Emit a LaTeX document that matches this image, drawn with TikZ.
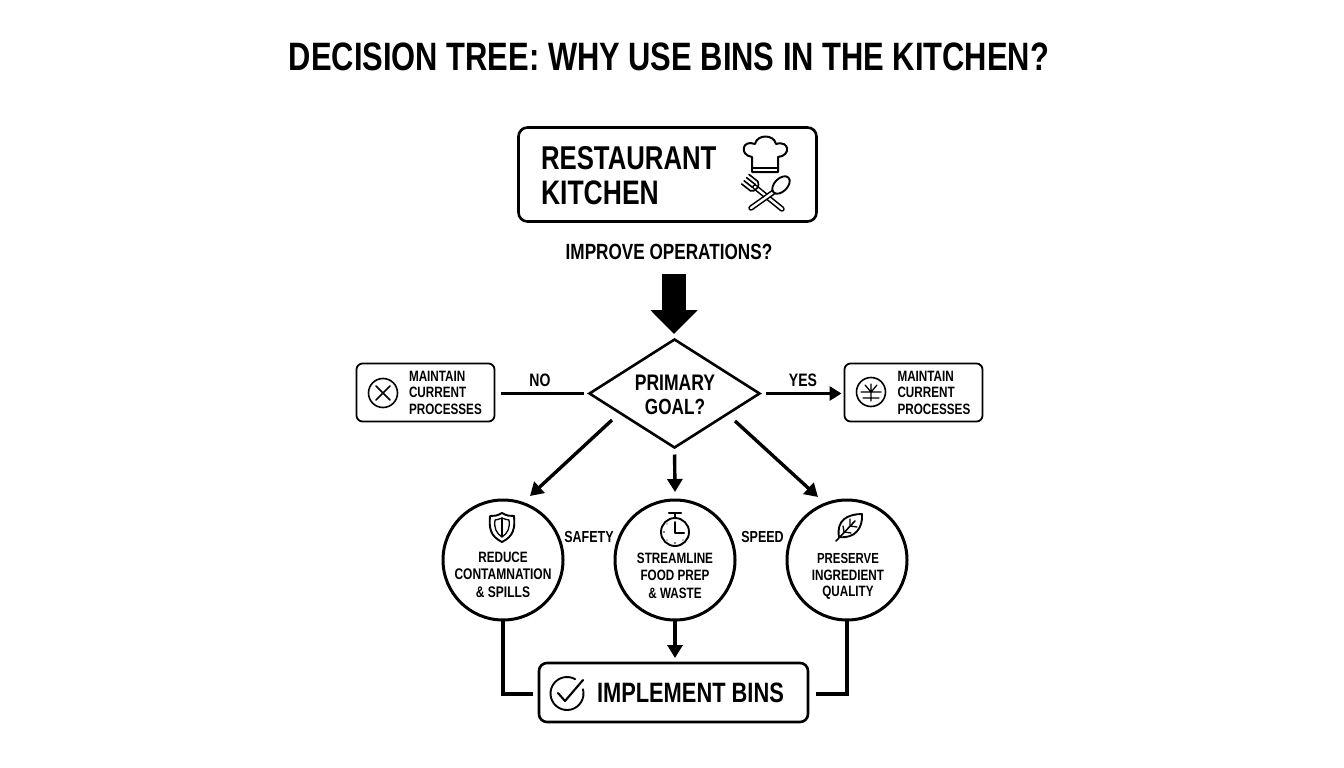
\documentclass[tikz,border=0pt]{standalone}
\usepackage{fontspec}
\usetikzlibrary{arrows.meta,shapes.geometric}
\newfontfamily\lab[FakeStretch=0.78]{Liberation Sans Bold}
\newcommand{\fs}[1]{\fontsize{#1}{#1}\selectfont\lab}
\tikzset{
  x=1pt,y=-1pt,
  bigbox/.style={draw=black,line width=2.6pt,rounded corners=9pt,fill=white,inner sep=0pt,outer sep=0pt},
  smallbox/.style={draw=black,line width=1.8pt,rounded corners=6pt,fill=white,inner sep=0pt,outer sep=0pt,minimum width=138pt,minimum height=58pt},
  goalcircle/.style={circle,draw=black,line width=3pt,fill=white,inner sep=0pt,outer sep=0pt,minimum size=120pt},
  decision/.style={diamond,draw=black,line width=2.6pt,fill=white,inner sep=0pt,outer sep=0pt,minimum width=170pt,minimum height=108pt,aspect=1.57},
  txt/.style={inner sep=0pt,outer sep=0pt,align=center,text=black},
  txtl/.style={inner sep=0pt,outer sep=0pt,align=left,text=black,anchor=west},
  conn/.style={draw=black,line width=3.4pt},
  arr/.style={draw=black,line width=3.4pt,-{Triangle[width=15pt,length=13pt]}},
  elbow/.style={draw=black,line width=3.6pt,line join=miter},
  icon/.style={draw=black,line width=1.6pt,line cap=round,line join=round},
  iconthin/.style={draw=black,line width=1.3pt,line cap=round,line join=round},
}
\begin{document}
\begin{tikzpicture}
\useasboundingbox[fill=white] (0,0) rectangle (1344,768);
% title
\node[txt] (title) at (669,57) {\fs{39.6}DECISION TREE: WHY USE BINS IN THE KITCHEN?};
% top box
\node[bigbox,minimum width=298pt,minimum height=94pt] (kitchen) at (667.5,174.5) {};
\node[txtl] (kt1) at (541,158.5) {\fs{33}RESTAURANT};
\node[txtl] (kt2) at (541,193) {\fs{34}KITCHEN};
% chef hat
\draw[icon,line width=2pt] (752,157) .. controls (739,155) and (742,139) .. (755,144) .. controls (757,134) and (774,134) .. (776,144) .. controls (790,140) and (791,156) .. (778,157) -- (778,172) -- (752,172) -- cycle;
\draw[icon,line width=2pt] (752,168) -- (778,168);
% fork
\draw[line width=5.5pt,line cap=round,draw=black] (782,209) -- (755,187);
\draw[line width=2.4pt,line cap=round,draw=white] (782,209) -- (755,187);
\begin{scope}[shift={(754,186)},rotate=142]
  \draw[icon,line width=1.6pt] (0pt,-6pt) -- (11pt,-6pt) (0pt,-2pt) -- (11pt,-2pt) (0pt,2pt) -- (11pt,2pt) (0pt,6pt) -- (11pt,6pt);
  \draw[icon,line width=1.6pt] (0pt,-6pt) .. controls (-5pt,-5pt) and (-5pt,5pt) .. (0pt,6pt);
\end{scope}
% spoon
\draw[line width=5.5pt,line cap=round,draw=black] (751,208) -- (775,191);
\draw[line width=2.4pt,line cap=round,draw=white] (751,208) -- (775,191);
\draw[icon,line width=1.9pt,fill=white,shift={(781,185)},rotate=45] (0pt,0pt) ellipse [x radius=10.5pt,y radius=6.5pt];
% question
\node[txt] (q) at (669,252) {\fs{22}IMPROVE OPERATIONS?};
% big arrow
\coordinate (fatA) at (674,274);
\coordinate (fatB) at (674,334);
\draw[draw=black,line width=24pt,-{Triangle[width=46pt,length=24pt]}] (fatA) -- (fatB);
% decision
\node[decision] (dia) at (674.5,393.5) {};
\node[txt] (dt1) at (675,383) {\fs{22.5}PRIMARY};
\node[txt] (dt2) at (675,407) {\fs{22}GOAL?};
% side boxes
\node[smallbox] (nobox) at (425.5,392.5) {};
\node[smallbox] (yesbox) at (913.5,392.5) {};
\node[txtl] (n1) at (409,376) {\fs{15}MAINTAIN};
\node[txtl] (n2) at (409,392.5) {\fs{15}CURRENT};
\node[txtl] (n3) at (409,409) {\fs{15}PROCESSES};
\node[txtl] (y1) at (897.5,376) {\fs{15}MAINTAIN};
\node[txtl] (y2) at (897.5,392.5) {\fs{15}CURRENT};
\node[txtl] (y3) at (897.5,409) {\fs{15}PROCESSES};
\draw[icon] (383,393) circle (14.5pt);
\draw[icon] (376,386) -- (390,400) (390,386) -- (376,400);
\draw[icon] (871,392) circle (14.5pt);
\draw[iconthin] (871,384) -- (871,401) (861,392) -- (881,392) (863,398) -- (879,398) (871,392) -- (865,385) (871,392) -- (877,385);
% side connectors
\draw[conn,shorten <=6pt,shorten >=6pt] (dia.west) -- (dia.west -| nobox.east);
\draw[draw=black,line width=3.4pt,-{Triangle[width=14pt,length=12pt]},shorten <=6pt,shorten >=3pt] (dia.east) -- (dia.east -| yesbox.west);
\node[txt] (nolab) at (540,380) {\fs{18}NO};
\node[txt] (yeslab) at (803,380) {\fs{18}YES};
% circles
\node[goalcircle] (c1) at (503,560) {};
\node[goalcircle] (c2) at (675,560) {};
\node[goalcircle] (c3) at (847,560) {};
% circle text
\node[txt] (c1a) at (503,557) {\fs{15}REDUCE};
\node[txt] (c1b) at (503,574.5) {\fs{15.4}CONTAMNATION};
\node[txt] (c1c) at (503,592) {\fs{15.4}\& SPILLS};
\node[txt] (c2a) at (675,558) {\fs{15}STREAMLINE};
\node[txt] (c2b) at (675,575.5) {\fs{15}FOOD PREP};
\node[txt] (c2c) at (675,593) {\fs{15}\& WASTE};
\node[txt] (c3a) at (848,558) {\fs{14.6}PRESERVE};
\node[txt] (c3b) at (848,575.5) {\fs{15}INGREDIENT};
\node[txt] (c3c) at (848,593) {\fs{15}QUALITY};
\node[txt] (safety) at (589,537) {\fs{16}SAFETY};
\node[txt] (speed) at (762.5,537) {\fs{16}SPEED};
% shield
\draw[icon,line width=1.9pt] (502,513) .. controls (497,516) and (494,516) .. (490,516) .. controls (489,528) and (490,536) .. (502,542) .. controls (514,536) and (515,528) .. (514,516) .. controls (510,516) and (507,516) .. (502,513) -- cycle;
\draw[iconthin] (502,518) .. controls (499,519) and (497,520) .. (495,520) .. controls (494,528) and (496,533) .. (502,537) .. controls (508,533) and (510,528) .. (509,520) .. controls (507,520) and (505,519) .. (502,518) -- cycle;
\draw[iconthin] (502,518) -- (502,537);
% clock
\draw[icon,line width=1.9pt] (675,532) circle (14pt);
\draw[icon,line width=2.6pt] (669,513) -- (681,513);
\draw[icon,line width=2pt] (675,513) -- (675,518);
\draw[icon,line width=2pt] (675,522) -- (675,532.5) -- (684,532.5);
\fill[black] (664,532) circle (0.9pt) (667,524) circle (0.7pt) (667,540) circle (0.7pt) (675,543) circle (0.8pt) (683,540) circle (0.7pt);
% leaf
\draw[icon,line width=1.9pt] (862,514) .. controls (848,514) and (836,520) .. (839,537) .. controls (855,539) and (863,528) .. (862,514) -- cycle;
\draw[icon] (836,541) -- (855,521);
\draw[iconthin] (850,526) -- (850,519) (850,526) -- (857,527) (844,532) -- (843,526) (844,532) -- (851,533);
% diagonal connectors
\coordinate (d1a) at (612,420);
\coordinate (d1b) at (530,496);
\coordinate (d2a) at (735,421);
\coordinate (d2b) at (818,497);
\coordinate (d3b) at (675,492);
\draw[arr] (d1a) -- (d1b);
\draw[arr] (d2a) -- (d2b);
\draw[arr,shorten <=7pt] (dia.south) -- (d3b);
% implement
\node[bigbox,minimum width=269pt,minimum height=59pt,rounded corners=8pt] (impl) at (673.5,692.5) {};
\node[txtl] (implt) at (597,693) {\fs{28}IMPLEMENT BINS};
\draw[icon,line width=1.9pt] ([shift={(60:16.5pt)}]567,693.5) arc[start angle=60,end angle=375,radius=16.5pt];
\draw[icon,line width=2.1pt] (558,693) -- (565,701) -- (583,680);
% lower connectors
\draw[arr,shorten >=5pt] (c2.south) -- (c2.south |- impl.north);
\draw[elbow,shorten >=6pt] (c1.south) |- ([yshift=-1.2pt]impl.west);
\draw[elbow,shorten >=8pt] (c3.south) |- ([yshift=-1.2pt]impl.east);
\end{tikzpicture}
\end{document}
